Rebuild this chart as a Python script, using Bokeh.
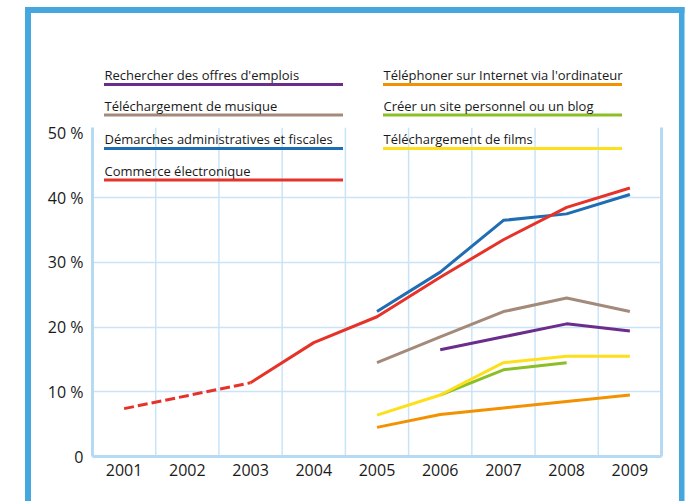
from bokeh.plotting import figure
from bokeh.models import FixedTicker, LinearAxis, BoxAnnotation, Label, Range1d
from bokeh.embed import file_html
from bokeh.resources import INLINE

years = [2001, 2002, 2003, 2004, 2005, 2006, 2007, 2008, 2009]
year_labels = ["2001", "2002", "2003", "2004", "2005", "2006", "2007", "2008", "2009"]
y_ticks = [0, 10, 20, 30, 40, 50]
y_tick_labels = ["0", "10 %", "20 %", "30 %", "40 %", "50 %"]
y_top = 50.8  # top of the value area

commerce = [7.4, 9.4, 11.4, 17.6, 21.6, 27.7, 33.5, 38.5, 41.5]
demarches = [None, None, None, None, 22.4, 28.5, 36.5, 37.5, 40.5]
musique = [None, None, None, None, 14.5, 18.5, 22.4, 24.5, 22.4]
emplois = [None, None, None, None, None, 16.5, 18.5, 20.5, 19.4]
films = [None, None, None, None, 6.4, 9.5, 14.5, 15.5, 15.5]
blog = [None, None, None, None, None, 9.5, 13.4, 14.5, None]
telephone = [None, None, None, None, 4.5, 6.5, 7.5, 8.5, 9.5]

# legend order: row by row, left column then right column
legend_labels = [
    "Rechercher des offres d'emplois", "Téléphoner sur Internet via l'ordinateur",
    "Téléchargement de musique", "Créer un site personnel ou un blog",
    "Démarches administratives et fiscales", "Téléchargement de films",
    "Commerce électronique",
]
C_EMPLOIS = "#6b2d8b"
C_TEL = "#f39200"
C_MUSIQUE = "#a38a7a"
C_BLOG = "#8cbf26"
C_DEMARCHES = "#1f6db3"
C_FILMS = "#fde01a"
C_COMMERCE = "#e6332a"
legend_colors = [C_EMPLOIS, C_TEL, C_MUSIQUE, C_BLOG, C_DEMARCHES, C_FILMS, C_COMMERCE]

FONT = "Open Sans"
GRID = "#c9e4f8"
AXIS = "#b6daf4"
FRAME = "#45a7dd"

W, H = 696, 501
MB_L, MB_R, MB_T, MB_B = 92, 35, 40, 45
px_per_unit = 6.47
y_end = (H - MB_T - MB_B) / px_per_unit

bg = ("linear-gradient({c},{c}), linear-gradient({c},{c}), linear-gradient({c},{c})").format(c=FRAME)
p = figure(width=W, height=H, x_range=Range1d(2000.5, 2009.5), y_range=Range1d(0, y_end),
           output_backend="svg", toolbar_location=None,
           min_border_left=MB_L, min_border_right=MB_R, min_border_top=MB_T, min_border_bottom=MB_B,
           styles={"background-color": "white",
                   "background-image": bg,
                   "background-size": "6px 494px, 5.5px 494px, 659.5px 6px",
                   "background-position": "25px 7px, 679px 7px, 25px 7px",
                   "background-repeat": "no-repeat"})
p.outline_line_color = None
p.background_fill_color = "white"
p.border_fill_alpha = 0

# vertical grid lines at category boundaries, limited to the value area
bx = [y + 0.5 for y in years[:-1]]
p.segment(x0=bx, x1=bx, y0=[0] * len(bx), y1=[y_top] * len(bx), line_color=GRID, line_width=1.5)

def seg(vals):
    xs = [y for y, v in zip(years, vals) if v is not None]
    ys = [v for v in vals if v is not None]
    return xs, ys

series = [(telephone, C_TEL), (blog, C_BLOG), (films, C_FILMS), (emplois, C_EMPLOIS),
          (musique, C_MUSIQUE), (demarches, C_DEMARCHES)]
for vals, col in series:
    xs, ys = seg(vals)
    p.line(xs, ys, line_color=col, line_width=3)

# commerce: dashed until 2003, solid afterwards
p.line(years[:3], commerce[:3], line_color=C_COMMERCE, line_width=3, line_dash="10 4")
p.line(years[2:], commerce[2:], line_color=C_COMMERCE, line_width=3)

# axes
xa = p.xaxis[0]
xa.ticker = FixedTicker(ticks=years)
xa.major_label_overrides = {y: l for y, l in zip(years, year_labels)}
ya = p.yaxis[0]
ya.ticker = FixedTicker(ticks=y_ticks)
ya.major_label_overrides = {t: l for t, l in zip(y_ticks, y_tick_labels)}
ya.bounds = (0, y_top)
for ax in (xa, ya):
    ax.axis_line_color = AXIS
    ax.axis_line_width = 3
    ax.major_tick_line_color = None
    ax.minor_tick_line_color = None
    ax.major_tick_out = 0
    ax.major_tick_in = 0
    ax.minor_tick_out = 0
    ax.major_label_text_font = FONT
    ax.major_label_text_font_size = "16px"
    ax.major_label_text_color = "#1a1a1a"
xa.major_label_standoff = 7
ya.major_label_standoff = 9

ra = LinearAxis(ticker=FixedTicker(ticks=[]), axis_line_color=AXIS, axis_line_width=3,
                major_tick_line_color=None, minor_tick_line_color=None,
                major_tick_out=0, minor_tick_out=0, bounds=(0, y_top),
                major_label_text_font_size="0px")
p.add_layout(ra, "right")

p.xgrid.visible = False
p.ygrid.ticker = FixedTicker(ticks=y_ticks[1:-1])
p.ygrid.grid_line_color = GRID
p.ygrid.grid_line_width = 1.5

# legend (underlined labels)
col_x = [104, 383]
col_w = 239
row_line_y = [84, 114.5, 148, 179.5]
for i, (lab, col) in enumerate(zip(legend_labels, legend_colors)):
    r, c = divmod(i, 2)
    ly = row_line_y[r]
    p.add_layout(BoxAnnotation(left=col_x[c] - 0.5, right=col_x[c] - 0.5 + col_w,
                               top=ly - 1.5, bottom=ly + 1.5,
                               left_units="canvas", right_units="canvas",
                               top_units="canvas", bottom_units="canvas",
                               fill_color=col, fill_alpha=1, line_color=None))
    p.add_layout(Label(x=col_x[c], y=ly - 9.5, x_units="canvas", y_units="canvas",
                       text=lab, text_font=FONT, text_font_size="13px",
                       text_color="#1a1a1a", text_baseline="alphabetic", text_align="left"))

open("out.html", "w").write(file_html(p, INLINE))
